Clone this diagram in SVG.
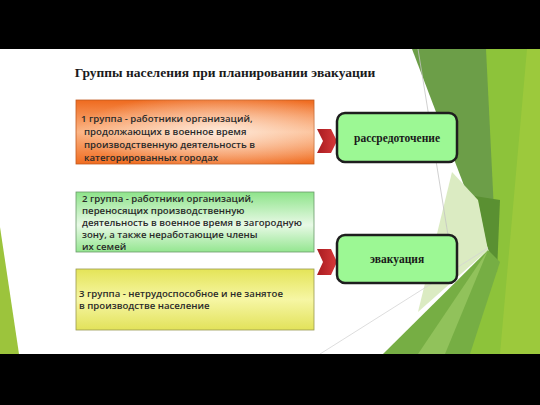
<svg xmlns="http://www.w3.org/2000/svg" width="540" height="405" viewBox="0 0 540 405">
<defs>
<style>
.t{font-family:"Open Sans","Liberation Sans",Arial,sans-serif;font-size:9.6px;font-weight:600;fill:#2a2a2a}
.h{font-family:"Liberation Serif","Times New Roman",serif;font-weight:bold;fill:#1a1a1a}
.rb{fill:#9cf894;stroke:#1e1e1e;stroke-width:2.5}
.chev{fill:url(#gr)}
</style>
<linearGradient id="go" x1="0" y1="0" x2="0" y2="1">
<stop offset="0" stop-color="#ef6a1e"/>
<stop offset="0.5" stop-color="#fbb484"/>
<stop offset="1" stop-color="#f06c20"/>
</linearGradient>
<radialGradient id="go2" cx="0.6" cy="0.5" r="0.6">
<stop offset="0" stop-color="#fff6ee" stop-opacity="0.8"/>
<stop offset="1" stop-color="#fff6ee" stop-opacity="0"/>
</radialGradient>
<linearGradient id="gg" x1="0" y1="0" x2="0" y2="1">
<stop offset="0" stop-color="#8ee48a"/>
<stop offset="0.55" stop-color="#e8f9e6"/>
<stop offset="1" stop-color="#94e690"/>
</linearGradient>
<linearGradient id="gy" x1="0" y1="0" x2="0" y2="1">
<stop offset="0" stop-color="#e4e458"/>
<stop offset="0.5" stop-color="#f6f6a4"/>
<stop offset="1" stop-color="#e2e25a"/>
</linearGradient>
<linearGradient id="gr" x1="0" y1="0" x2="1" y2="0">
<stop offset="0" stop-color="#a81c20"/>
<stop offset="1" stop-color="#d8393a"/>
</linearGradient>
<clipPath id="slide"><rect x="0" y="49" width="540" height="305"/></clipPath>
</defs>
<rect x="0" y="0" width="540" height="405" fill="#000"/>
<rect x="0" y="49" width="540" height="305" fill="#fff"/>
<g id="decor" clip-path="url(#slide)">
<polygon points="0,227 0,354 19,354" fill="#9cc43c"/>
<polygon points="484,49 540,49 540,354 440,354 495,262" fill="#8dc33a"/>
<polygon points="527,49 540,49 540,354 500,354" fill="#9cc93c"/>
<polygon points="412,49 486,49 497,272" fill="#6c9e48"/>
<polygon points="468,195 500,200 497,272" fill="#5a9032"/>
<polygon points="452,172 478,200 488,250 418,312" fill="#dbebc2"/>
<polygon points="383,354 488,250 500,262 470,354" fill="#76ae44"/>
<polygon points="418,354 488,250 445,354" fill="#a4cf6a" opacity="0.6"/>
<line x1="418" y1="49" x2="452" y2="260" stroke="#c4c4c4" stroke-width="0.8"/>
<line x1="320" y1="354" x2="488" y2="248" stroke="#d4d4d4" stroke-width="0.8"/>
</g>
<text class="h" x="225" y="77" font-size="13.5" text-anchor="middle">Группы населения при планировании эвакуации</text>
<g id="group1">
<rect x="76" y="100" width="238" height="64" fill="url(#go)" stroke="#c05a20" stroke-width="0.8"/>
<rect x="76" y="100" width="238" height="64" fill="url(#go2)"/>
<text class="t" x="81" y="122">1 группа - работники организаций,</text>
<text class="t" x="84" y="135">продолжающих в военное время</text>
<text class="t" x="84" y="148">производственную  деятельность в</text>
<text class="t" x="84" y="161">категорированных  городах</text>
</g>
<g id="group2">
<rect x="76" y="192" width="238" height="60" fill="url(#gg)" stroke="#6a9a6a" stroke-width="0.8"/>
<text class="t" x="82" y="202">2 группа - работники организаций,</text>
<text class="t" x="82" y="214">переносящих производственную</text>
<text class="t" x="82" y="226">деятельность в военное время в загородную</text>
<text class="t" x="82" y="238">зону, а также неработающие члены</text>
<text class="t" x="82" y="250">их семей</text>
</g>
<g id="group3">
<rect x="76" y="269" width="238" height="61" fill="url(#gy)" stroke="#9a9a50" stroke-width="0.8"/>
<text class="t" x="79" y="297">3 группа - нетрудоспособное и не занятое</text>
<text class="t" x="79" y="309">в производстве население</text>
</g>
<g id="connectors">
<polygon class="chev" points="317,129 331,129 337,141 331,153 317,153 323,141"/>
<polygon class="chev" points="317,249 331,249 337,262 331,275 317,275 323,262"/>
</g>
<g id="dispersal">
<rect class="rb" x="337" y="113" width="120" height="49" rx="8"/>
<text class="h" x="397" y="142" font-size="11.5" text-anchor="middle">рассредоточение</text>
</g>
<g id="evacuation">
<rect class="rb" x="337" y="235" width="120" height="48" rx="8"/>
<text class="h" x="397" y="263" font-size="11.5" text-anchor="middle">эвакуация</text>
</g>
</svg>
